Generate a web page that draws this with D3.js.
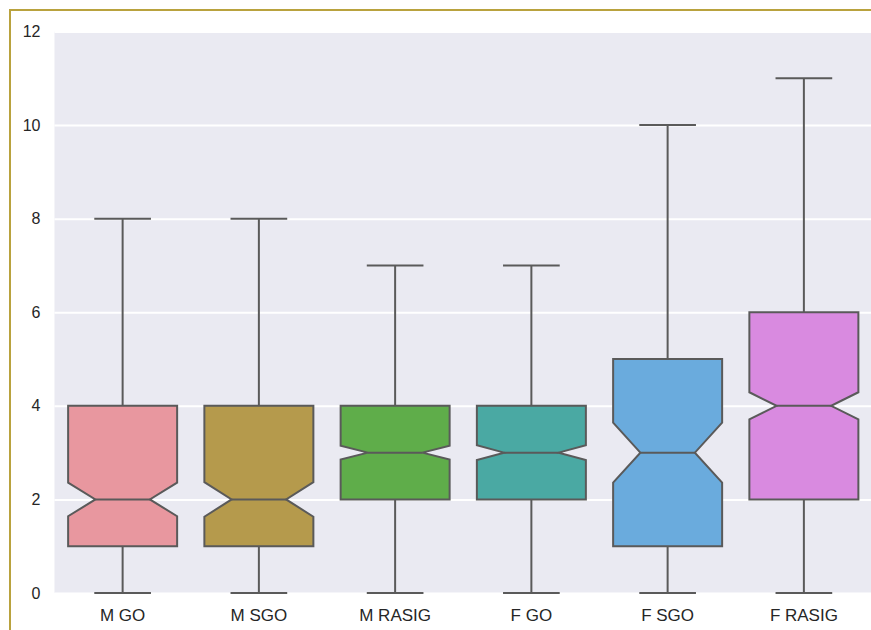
<!DOCTYPE html>
<html>
<head>
<meta charset="utf-8">
<script src="https://cdn.jsdelivr.net/npm/d3@7"></script>
<style>
  html, body { margin: 0; padding: 0; background: #ffffff; }
  svg { display: block; }
  text { font-family: "Liberation Sans", Arial, sans-serif; fill: #262626; }
</style>
</head>
<body>
<svg id="chart" width="871" height="630"></svg>
<script>
// Group labels along the x axis
const categories = ["M GO", "M SGO", "M RASIG", "F GO", "F SGO", "F RASIG"];
// Five-number summaries per group
const whiskerLow  = [0, 0, 0, 0, 0, 0];
const quartile1   = [1, 1, 2, 2, 1, 2];
const medians     = [2, 2, 3, 3, 3, 4];
const quartile3   = [4, 4, 4, 4, 5, 6];
const whiskerHigh = [8, 8, 7, 7, 10, 11];
// Notch bounds (confidence interval around the median)
const notchLow  = [1.64, 1.63, 2.85, 2.84, 2.36, 3.71];
const notchHigh = [2.36, 2.37, 3.15, 3.16, 3.64, 4.29];
// Box fill colours
const colors = ["#e8979f", "#b59a4c", "#5fad4a", "#4aa9a3", "#6aabdd", "#d98ae0"];
// Y axis ticks
const yTicks = [0, 2, 4, 6, 8, 10, 12];

const svg = d3.select("#chart");
const margin = { left: 54.5, top: 31.5, right: -1, bottom: 37 };
const W = 871, H = 630;

// Frame lines around the figure
svg.append("line").attr("x1", 9).attr("x2", W).attr("y1", 10).attr("y2", 10)
  .attr("stroke", "#b9a23e").attr("stroke-width", 2);
svg.append("line").attr("x1", 10).attr("x2", 10).attr("y1", 9).attr("y2", H)
  .attr("stroke", "#b9a23e").attr("stroke-width", 2);

const x = d3.scaleBand().domain(categories)
  .range([margin.left, W - margin.right]).paddingInner(0).paddingOuter(0);
const y = d3.scaleLinear().domain([0, 12]).range([H - margin.bottom, margin.top]);

// Plot background
svg.append("rect")
  .attr("x", margin.left).attr("y", y(12))
  .attr("width", W - margin.right - margin.left).attr("height", y(0) - y(12))
  .attr("fill", "#eaeaf2");

// Horizontal gridlines
const yAxis = d3.axisLeft(y).tickValues(yTicks).tickFormat(d3.format("d"))
  .tickSize(-(W - margin.right - margin.left)).tickPadding(14);
const gy = svg.append("g").attr("transform", `translate(${margin.left},0)`).call(yAxis);
gy.select(".domain").remove();
gy.selectAll(".tick line").attr("stroke", "#ffffff").attr("stroke-width", 2);
gy.selectAll(".tick text").attr("font-size", 16).attr("fill", "#262626")
  .attr("font-family", "'Liberation Sans', Arial, sans-serif");

// X axis labels
const xAxis = d3.axisBottom(x).tickSize(0).tickPadding(16);
const gx = svg.append("g").attr("transform", `translate(0,${y(0)})`).call(xAxis);
gx.select(".domain").remove();
gx.selectAll(".tick text").attr("font-size", 17).attr("fill", "#262626")
  .attr("font-family", "'Liberation Sans', Arial, sans-serif");

const lineColor = "#5a5a5a";
const lw = 2;
const boxW = x.bandwidth() * 0.8;
const capW = boxW * 0.52;

const groups = categories.map((c, i) => ({
  cat: c, lo: whiskerLow[i], q1: quartile1[i], med: medians[i], q3: quartile3[i],
  hi: whiskerHigh[i], nLo: notchLow[i], nHi: notchHigh[i], color: colors[i]
}));

const g = svg.append("g").selectAll("g").data(groups).join("g");

// Whiskers
g.append("line")
  .attr("x1", d => x(d.cat) + x.bandwidth() / 2).attr("x2", d => x(d.cat) + x.bandwidth() / 2)
  .attr("y1", d => y(d.q3)).attr("y2", d => y(d.hi))
  .attr("stroke", lineColor).attr("stroke-width", lw);
g.append("line")
  .attr("x1", d => x(d.cat) + x.bandwidth() / 2).attr("x2", d => x(d.cat) + x.bandwidth() / 2)
  .attr("y1", d => y(d.q1)).attr("y2", d => y(d.lo))
  .attr("stroke", lineColor).attr("stroke-width", lw);
// Caps
g.append("line")
  .attr("x1", d => x(d.cat) + x.bandwidth() / 2 - capW / 2)
  .attr("x2", d => x(d.cat) + x.bandwidth() / 2 + capW / 2)
  .attr("y1", d => y(d.hi)).attr("y2", d => y(d.hi))
  .attr("stroke", lineColor).attr("stroke-width", lw);
g.append("line")
  .attr("x1", d => x(d.cat) + x.bandwidth() / 2 - capW / 2)
  .attr("x2", d => x(d.cat) + x.bandwidth() / 2 + capW / 2)
  .attr("y1", d => y(d.lo)).attr("y2", d => y(d.lo))
  .attr("stroke", lineColor).attr("stroke-width", lw);

// Notched boxes
g.append("path")
  .attr("d", d => {
    const cx = x(d.cat) + x.bandwidth() / 2;
    const l = cx - boxW / 2, r = cx + boxW / 2;
    const il = cx - boxW / 4, ir = cx + boxW / 4;
    const p = d3.path();
    p.moveTo(l, y(d.q1));
    p.lineTo(r, y(d.q1));
    p.lineTo(r, y(d.nLo));
    p.lineTo(ir, y(d.med));
    p.lineTo(r, y(d.nHi));
    p.lineTo(r, y(d.q3));
    p.lineTo(l, y(d.q3));
    p.lineTo(l, y(d.nHi));
    p.lineTo(il, y(d.med));
    p.lineTo(l, y(d.nLo));
    p.closePath();
    return p.toString();
  })
  .attr("fill", d => d.color)
  .attr("stroke", lineColor).attr("stroke-width", lw).attr("stroke-linejoin", "miter");

// Median lines
g.append("line")
  .attr("x1", d => x(d.cat) + x.bandwidth() / 2 - boxW / 4)
  .attr("x2", d => x(d.cat) + x.bandwidth() / 2 + boxW / 4)
  .attr("y1", d => y(d.med)).attr("y2", d => y(d.med))
  .attr("stroke", lineColor).attr("stroke-width", lw);
</script>
</body>
</html>
